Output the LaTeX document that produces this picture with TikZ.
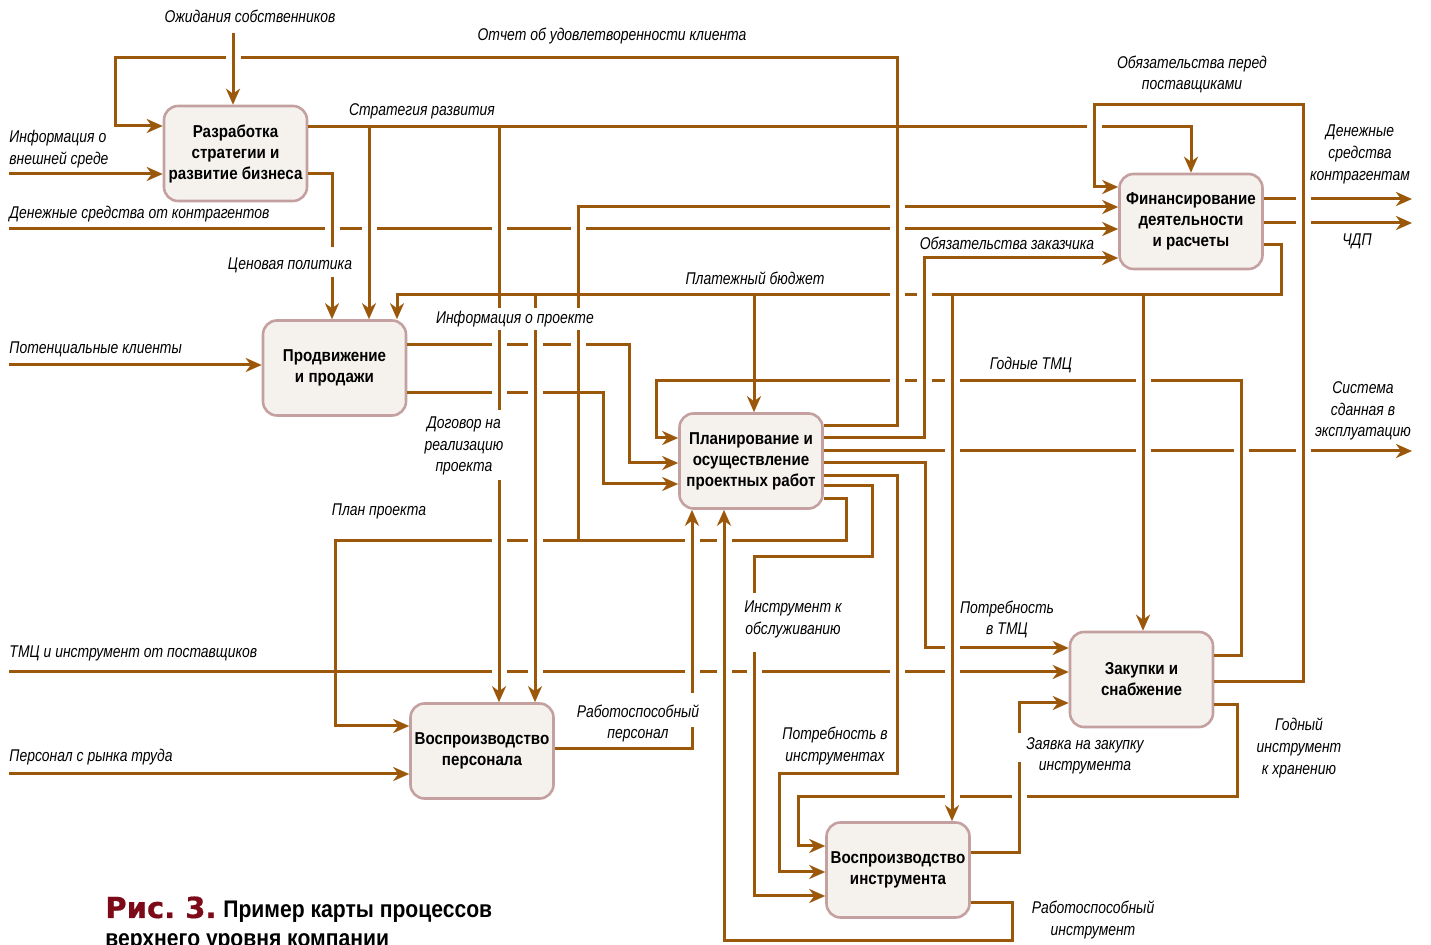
\documentclass[tikz,border=0pt]{standalone}
\usepackage{fontspec}
\setmainfont{Liberation Sans}[FakeStretch=0.88]
\newfontfamily\lblfam{Liberation Sans}[FakeStretch=0.82]
\newfontfamily\capfont{DejaVu Sans}[FakeBold=0.6]
\usepackage{tikz}
\usetikzlibrary{arrows.meta,positioning}
\usepackage{xcolor}
\definecolor{wireC}{RGB}{155,88,10}
\definecolor{boxC}{RGB}{196,160,160}
\definecolor{fillC}{RGB}{245,242,238}
\definecolor{capC}{RGB}{125,10,25}
\newcommand{\boxfont}{\fontsize{8.6}{10.5}\selectfont\bfseries}
\newcommand{\lblfont}{\lblfam\fontsize{8.5}{10.8}\selectfont\itshape}

\begin{document}
\begin{tikzpicture}[
    x=0.5pt, y=-0.5pt,
    proc/.style={rectangle, rounded corners=7pt, draw=boxC, fill=fillC, line width=1.3pt, minimum width=71.5pt, minimum height=47.5pt, align=center, font=\boxfont, inner sep=0pt},
    wire/.style={draw=wireC, line width=1.5pt},
    arrow/.style={wire, -{Stealth[length=8pt, width=7pt, inset=2.5pt]}},
    lbl/.style={font=\lblfont, align=center, inner sep=0pt},
    lbll/.style={lbl, align=left, anchor=west}
]
    \useasboundingbox (0,0) rectangle (1431,945);

    % processes
    \node[proc] (strat) at (235.5,153.5) {Разработка\\стратегии и\\развитие бизнеса};
    \node[proc] (prod) at (334.5,368) {Продвижение\\и продажи};
    \node[proc] (plan) at (751,461) {Планирование и\\осуществление\\проектных работ};
    \node[proc] (fin) at (1191,221.5) {Финансирование\\деятельности\\и расчеты};
    \node[proc] (zak) at (1141.5,679.5) {Закупки и\\снабжение};
    \node[proc] (pers) at (482,751) {Воспроизводство\\персонала};
    \node[proc] (inst) at (898,870) {Воспроизводство\\инструмента};

    % free ends
    \coordinate (own) at (233,33);
    \coordinate (env) at (9,174);
    \coordinate (cash) at (9,229);
    \coordinate (cli) at (9,365);
    \coordinate (sup) at (9,672);
    \coordinate (lab) at (9,774);
    \coordinate (sys) at (1412,451);
    \coordinate (pay) at (1412,199);
    \coordinate (ndp) at (1412,223);

    % inputs
    \draw[arrow] (own) -- (own |- strat.north);
    \draw[arrow] (env) -- (strat.west |- env);
    \draw[arrow] (cash) -- (fin.west |- cash);
    \draw[arrow] (cli) -- (prod.west |- cli);
    \draw[arrow] (sup) -- (zak.west |- sup);
    \draw[arrow] (lab) -- (pers.west |- lab);

    % strategy
    \draw[arrow] (strat.east |- 0,127) -- (1191,127) -- (fin.north);
    \draw[arrow] (369,127) -- (369,127 |- prod.north);
    \draw[arrow] (499,127) -- (499,127 |- pers.north);
    \draw[arrow] (strat.east |- 0,174) -- (332,174) -- (332,174 |- prod.north);

    % payment budget
    \draw[arrow] (fin.east |- 0,245) -- (1281,245) -- (1281,295) -- (397,295) -- (397,295 |- prod.north);
    \draw[arrow] (535,295) -- (535,295 |- pers.north);
    \draw[arrow] (754,295) -- (754,295 |- plan.north);
    \draw[arrow] (952,295) -- (952,295 |- inst.north);
    \draw[arrow] (1143,295) -- (1143,295 |- zak.north);

    % sales
    \draw[arrow] (prod.east |- 0,345) -- (629,345) -- (629,463) -- (plan.west |- 0,463);
    \draw[arrow] (prod.east |- 0,393) -- (603,393) -- (603,484) -- (plan.west |- 0,484);

    % project works
    \draw[arrow] (plan.east |- 0,426) -- (897,426) -- (897,58) -- (115,58) -- (115,126) -- (strat.west |- 0,126);
    \draw[arrow] (plan.east |- 0,438) -- (924,438) -- (924,258) -- (fin.west |- 0,258);
    \draw[arrow] (plan.east |- sys) -- (sys);
    \draw[arrow] (plan.east |- 0,463) -- (925,463) -- (925,648) -- (zak.west |- 0,648);
    \draw[arrow] (plan.east |- 0,476) -- (897,476) -- (897,774) -- (779,774) -- (779,872) -- (inst.west |- 0,872);
    \draw[arrow] (plan.east |- 0,486) -- (872,486) -- (872,557) -- (754,557) -- (754,896) -- (inst.west |- 0,896);
    \draw[arrow] (plan.east |- 0,499) -- (846,499) -- (846,541) -- (335,541) -- (335,726) -- (pers.west |- 0,726);
    \draw[arrow] (578,541) -- (578,207) -- (fin.west |- 0,207);

    % purchasing
    \draw[arrow] (zak.east |- 0,656) -- (1241,656) -- (1241,381) -- (656,381) -- (656,438) -- (plan.west |- 0,438);
    \draw[arrow] (zak.east |- 0,682) -- (1303,682) -- (1303,105) -- (1094,105) -- (1094,187) -- (fin.west |- 0,187);
    \draw[arrow] (zak.east |- 0,705) -- (1237,705) -- (1237,797) -- (798,797) -- (798,846) -- (inst.west |- 0,846);

    % staff and tools
    \draw[arrow] (pers.east |- 0,749) -- (692,749) -- (692,749 |- plan.south);
    \draw[arrow] (inst.east |- 0,903) -- (1012,903) -- (1012,941) -- (724,941) -- (724,941 |- plan.south);
    \draw[arrow] (inst.east |- 0,853) -- (1019,853) -- (1019,703) -- (zak.west |- 0,703);

    % finance outputs
    \draw[arrow] (fin.east |- pay) -- (pay);
    \draw[arrow] (fin.east |- ndp) -- (ndp);

    % crossings
    \foreach \x/\y in {233/58, 1094/127,
        332/229, 369/229, 499/229, 578/229, 897/229, 897/207,
        897/295, 924/295, 499/345, 535/345, 578/345, 499/393, 535/393,
        897/381, 924/381, 952/381, 1143/381,
        952/451, 1143/451, 1241/451, 1303/451,
        499/541, 535/541, 692/541, 724/541, 952/648,
        499/672, 535/672, 692/672, 724/672, 754/672, 897/672, 952/672,
        952/797, 1019/797, 1303/199, 1303/223} {
        \fill[white] (\x-7.5,\y-3) rectangle (\x+7.5,\y+3);
        \draw[wire] (\x,\y-4) -- (\x,\y+4);
    }
    % breaks under labels
    \foreach \x/\ya/\yb in {332/247/277, 499/410/480, 499/308/330, 535/308/330,
        578/308/330, 754/593/652, 692/693/727, 1019/733/762} {
        \fill[white] (\x-3,\ya) rectangle (\x+3,\yb);
    }

    % labels
    \node[lbl] (l-own) at (250,16) {Ожидания собственников};
    \node[lbl] (l-rep) at (612,36) {Отчет об удовлетворенности клиента};
    \node[lbl] (l-str) at (422,111) {Стратегия развития};
    \node[lbll] (l-env) at (9,149) {Информация о\\внешней среде};
    \node[lbll] (l-cash) at (9,214) {Денежные средства от контрагентов};
    \node[lbl] (l-price) at (290,265) {Ценовая политика};
    \node[lbl] (l-bud) at (755,278) {Платежный бюджет};
    \node[lbl] (l-info) at (515,319) {Информация о проекте};
    \node[lbll] (l-cli) at (9,349) {Потенциальные клиенты};
    \node[lbl] (l-sup) at (1192,74.5) {Обязательства перед\\поставщиками};
    \node[lbl] (l-pay) at (1360,154.5) {Денежные\\средства\\контрагентам};
    \node[lbl] (l-ndp) at (1357,241) {ЧДП};
    \node[lbl] (l-cust) at (1007,243) {Обязательства заказчика};
    \node[lbl] (l-good) at (1031,365) {Годные ТМЦ};
    \node[lbl] (l-sys) at (1363,411) {Система\\сданная в\\эксплуатацию};
    \node[lbl] (l-deal) at (464,446) {Договор на\\реализацию\\проекта};
    \node[lbl] (l-plan) at (379,511) {План проекта};
    \node[lbl] (l-serv) at (793,619.5) {Инструмент к\\обслуживанию};
    \node[lbl] (l-need) at (1007,619.5) {Потребность\\в ТМЦ};
    \node[lbll] (l-tmc) at (9,653) {ТМЦ и инструмент от поставщиков};
    \node[lbl] (l-wp) at (638,723.5) {Работоспособный\\персонал};
    \node[lbl] (l-ni) at (835,746) {Потребность в\\инструментах};
    \node[lbl] (l-req) at (1085,756) {Заявка на закупку\\инструмента};
    \node[lbl] (l-keep) at (1299,748) {Годный\\инструмент\\к хранению};
    \node[lbll] (l-lab) at (9,757) {Персонал с рынка труда};
    \node[lbl] (l-wi) at (1093,920) {Работоспособный\\инструмент};

    % caption
    \node[anchor=base west, inner sep=0pt] (cap-a) at (105,918) {\capfont\bfseries\fontsize{14.5}{15}\selectfont\color{capC}Рис.~3.};
    \node[anchor=base west, inner sep=0pt, font=\fontsize{12}{14}\selectfont\bfseries] (cap-b) at (223,918) {Пример карты процессов};
    \node[anchor=base west, inner sep=0pt, font=\fontsize{12}{14}\selectfont\bfseries] (cap-c) at (105,947) {верхнего уровня компании};
\end{tikzpicture}
\end{document}
